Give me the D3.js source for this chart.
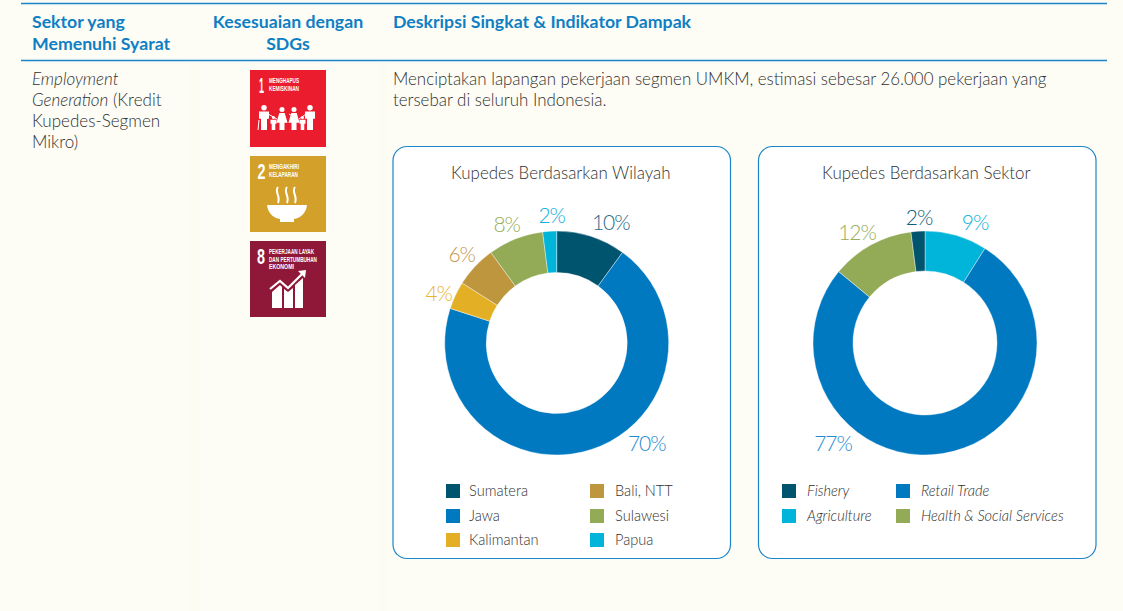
<!DOCTYPE html>
<html lang="id">
<head>
    <meta charset="UTF-8">
    <title>Kupedes</title>
    <script src="https://d3js.org/d3.v7.min.js"></script>
    <style>
        html, body { margin: 0; padding: 0; background: #fdfdf6; overflow: hidden; }
        text { font-family: Lato, "Noto Sans", sans-serif; }
    </style>
</head>
<body>
<div id="chart"></div>

<script type="text/javascript">
    var wilayahNames = ["Sumatera", "Jawa", "Kalimantan", "Bali, NTT", "Sulawesi", "Papua"];
    var wilayahValues = [10, 70, 4, 6, 8, 2];
    var sektorNames = ["Agriculture", "Retail Trade", "Health & Social Services", "Fishery"];
    var sektorValues = [9, 77, 12, 2];
    var sektorLegendOrder = ["Fishery", "Agriculture", "Retail Trade", "Health & Social Services"];

    var headerKiri = ["Sektor yang", "Memenuhi Syarat"];
    var headerTengah = ["Kesesuaian dengan", "SDGs"];
    var headerKanan = "Deskripsi Singkat & Indikator Dampak";
    var deskripsi = ["Menciptakan lapangan pekerjaan segmen UMKM, estimasi sebesar 26.000 pekerjaan yang",
        "tersebar di seluruh Indonesia."];

    var width = 1123;
    var height = 611;
    var blue = "#0f7fc4";
    var ink = "#303030";

    var colorWilayah = d3.scaleOrdinal()
        .domain(wilayahNames)
        .range(["#00546e", "#0079c1", "#e3b025", "#bd963e", "#93aa56", "#00b4da"]);
    var labelWilayah = ["#1f6d88", "#1f8ccf", "#e8b530", "#c49a50", "#98ae5c", "#0fb2dc"];
    // label offset from the donut centre
    var offsetWilayah = [[54, -121], [90, 100], [-118, -50], [-95, -89], [-50, -119], [-5, -128]];

    var colorSektor = d3.scaleOrdinal()
        .domain(sektorNames)
        .range(["#00b4da", "#0079c1", "#93aa56", "#00546e"]);
    var labelSektor = ["#0fb2dc", "#1f8ccf", "#98ae5c", "#0f5f7b"];
    var offsetSektor = [[50, -121], [-92, 100], [-68, -111], [-6, -126]];

    var svg = d3.select("#chart")
        .append("svg")
        .attr("width", width)
        .attr("height", height)
        .style("display", "block");

    svg.append("rect").attr("width", width).attr("height", height).attr("fill", "#fdfdf6");

    // faint column gutters
    [188, 378].forEach(function (x) {
        svg.append("rect").attr("x", x).attr("y", 62).attr("width", 11).attr("height", height - 62)
            .attr("fill", "#fcfcf3");
    });

    [3.5, 60.5].forEach(function (y) {
        svg.append("line").attr("x1", 21).attr("x2", 1107).attr("y1", y).attr("y2", y)
            .attr("stroke", "#1a85c8").attr("stroke-width", 1.5);
    });

    function lines(list, x, y0, step, size, fill, weight, anchor, style) {
        list.forEach(function (t, i) {
            svg.append("text")
                .attr("x", x)
                .attr("y", y0 + i * step)
                .attr("font-size", size + "px")
                .attr("font-weight", weight)
                .attr("fill", fill)
                .attr("text-anchor", anchor)
                .attr("font-style", style)
                .text(t);
        });
    }

    lines(headerKiri, 32, 28, 22, 17.7, blue, 700, "start", "normal");
    lines(headerTengah, 288, 28, 22, 17.7, blue, 700, "middle", "normal");
    lines([headerKanan], 393, 28, 22, 17.7, blue, 700, "start", "normal");
    lines(deskripsi, 393, 85, 21, 16.9, ink, 300, "start", "normal");

    var kiri = svg.append("text").attr("x", 32).attr("y", 85).attr("font-size", "17px")
        .attr("font-weight", 300).attr("fill", ink);
    kiri.append("tspan").attr("font-style", "italic").text("Employment");
    kiri = svg.append("text").attr("x", 32).attr("y", 106).attr("font-size", "17px")
        .attr("font-weight", 300).attr("fill", ink);
    kiri.append("tspan").attr("font-style", "italic").text("Generation");
    kiri.append("tspan").text(" (Kredit");
    lines(["Kupedes-Segmen", "Mikro)"], 32, 127, 21, 17, ink, 300, "start", "normal");

    // SDG tiles
    function tile(y, h, color, num, numX, numW, caption) {
        var g = svg.append("g").attr("transform", "translate(250," + y + ")");
        g.append("rect").attr("width", 76).attr("height", h).attr("fill", color);
        g.append("text").attr("x", numX).attr("y", 22.5).attr("font-size", "22px").attr("font-weight", 700)
            .style("font-family", "'Liberation Sans'")
            .attr("fill", "#fff")
            .attr("textLength", numW).attr("lengthAdjust", "spacingAndGlyphs").text(num);
        caption.forEach(function (c, i) {
            g.append("text").attr("x", 19).attr("y", 13.4 + i * 7.3).attr("font-size", "7.5px")
                .attr("font-weight", 700)
                .style("font-family", "'Liberation Sans'")
                .attr("fill", "#fff")
                .attr("textLength", c[1]).attr("lengthAdjust", "spacingAndGlyphs").text(c[0]);
        });
        return g;
    }

    function person(g, cx, top, h, w, skirt) {
        var r = h * 0.11;
        g.append("circle").attr("cx", cx).attr("cy", top + r).attr("r", r).attr("fill", "#fff");
        var y1 = top + 2.4 * r;
        var p = d3.path();
        if (skirt) {
            p.moveTo(cx - w * 0.3, y1);
            p.lineTo(cx + w * 0.3, y1);
            p.lineTo(cx + w * 0.62, top + h * 0.68);
            p.lineTo(cx + w * 0.28, top + h * 0.68);
            p.lineTo(cx + w * 0.28, top + h);
            p.lineTo(cx - w * 0.28, top + h);
            p.lineTo(cx - w * 0.28, top + h * 0.68);
            p.lineTo(cx - w * 0.62, top + h * 0.68);
        } else {
            p.moveTo(cx - w * 0.5, y1);
            p.lineTo(cx + w * 0.5, y1);
            p.lineTo(cx + w * 0.5, top + h * 0.55);
            p.lineTo(cx + w * 0.3, top + h * 0.55);
            p.lineTo(cx + w * 0.3, top + h);
            p.lineTo(cx - w * 0.3, top + h);
            p.lineTo(cx - w * 0.3, top + h * 0.55);
            p.lineTo(cx - w * 0.5, top + h * 0.55);
        }
        p.closePath();
        g.append("path").attr("d", p.toString()).attr("fill", "#fff");
    }

    var t1 = tile(70, 77, "#eb1c2d", "1", 9, 5, [["MENGHAPUS", 30], ["KEMISKINAN", 30]]);
    person(t1, 14, 35, 25, 10, false);
    person(t1, 23.5, 46, 14, 6, false);
    person(t1, 32, 37, 23, 9, true);
    person(t1, 44, 37, 23, 9, true);
    person(t1, 52.5, 46, 14, 6, false);
    person(t1, 60, 35, 25, 10, false);
    t1.append("path").attr("d", "M18,44L27,49M39,44L47,49M49,49L56,44M9,50L8,60")
        .attr("stroke", "#fff").attr("stroke-width", 1).attr("fill", "none");

    var t2 = tile(156, 76, "#d3a029", "2", 7.5, 8, [["MENGAKHIRI", 30], ["KELAPARAN", 29]]);
    t2.append("path").attr("d", "M17,49H57C56,58 50,62 44,63V66H30V63C24,62 18,58 17,49Z").attr("fill", "#fff");
    ["M28,31C24,36 31,40 28,47", "M37,31C33,36 40,40 37,47", "M45,31C41,36 48,40 45,47"].forEach(function (d) {
        t2.append("path").attr("d", d).attr("fill", "none").attr("stroke", "#fff").attr("stroke-width", 2);
    });

    var t8 = tile(241, 76, "#8f1838", "8", 7, 8, [["PEKERJAAN LAYAK", 45], ["DAN PERTUMBUHAN", 48], ["EKONOMI", 25]]);
    t8.append("path").attr("d", "M22,51L30,44L32,46V67H22Z M34,48L38,51L43,47V67H34Z M45,44L53,37V67H45Z")
        .attr("fill", "#fff");
    t8.append("path").attr("d", "M20,48L30,40L38,47L53,32").attr("fill", "none")
        .attr("stroke", "#fff").attr("stroke-width", 2.2);
    t8.append("path").attr("d", "M48,30L56,29L55,37Z").attr("fill", "#fff");

    // donut panels
    var pie = d3.pie().sort(null).value(function (d) { return d.value; });

    function panel(x0, x1, title, cx, rIn, names, values, color, labelColors, offsets) {
        svg.append("rect")
            .attr("x", x0).attr("y", 146.5)
            .attr("width", x1 - x0).attr("height", 412)
            .attr("rx", 14).attr("ry", 14)
            .attr("fill", "#fff").attr("stroke", "#1a85c8").attr("stroke-width", 1.2);

        svg.append("text").attr("x", (x0 + x1) / 2 - 1).attr("y", 179)
            .attr("text-anchor", "middle").attr("font-size", "16.9px").attr("font-weight", 300)
            .attr("fill", ink).text(title);

        var rows = names.map(function (n, i) { return { name: n, value: values[i] }; });
        var arc = d3.arc().innerRadius(rIn).outerRadius(112);
        var g = svg.append("g").attr("transform", "translate(" + cx + ",343)");

        g.selectAll("path").data(pie(rows)).enter().append("path")
            .attr("d", arc)
            .attr("fill", function (d) { return color(d.data.name); })
            .attr("stroke", "#fff").attr("stroke-width", 0.4);

        g.selectAll("text").data(rows).enter().append("text")
            .attr("x", function (d, i) { return offsets[i][0]; })
            .attr("y", function (d, i) { return offsets[i][1]; })
            .attr("dy", "0.36em")
            .attr("text-anchor", "middle")
            .attr("font-size", "21px").attr("font-weight", 300)
            .attr("letter-spacing", "-1.1px")
            .attr("fill", function (d, i) { return labelColors[i]; })
            .text(function (d) { return d.value + "%"; });
    }

    panel(393, 730.5, "Kupedes Berdasarkan Wilayah", 556.7, 70.5, wilayahNames, wilayahValues,
        colorWilayah, labelWilayah, offsetWilayah);
    panel(758.5, 1096, "Kupedes Berdasarkan Sektor", 925, 72, sektorNames, sektorValues,
        colorSektor, labelSektor, offsetSektor);

    function legend(names, color, colX, textGap, rowY, perCol, style) {
        var item = svg.append("g").selectAll("g").data(names).enter().append("g")
            .attr("transform", function (d, i) {
                return "translate(" + colX[Math.floor(i / perCol)] + "," + rowY[i % perCol] + ")";
            });
        item.append("rect").attr("width", 14).attr("height", 14)
            .attr("fill", function (d) { return color(d); });
        item.append("text").attr("x", function (d, i) { return textGap[Math.floor(i / perCol)]; })
            .attr("y", 12)
            .attr("font-size", "14.6px").attr("font-weight", 300).attr("font-style", style)
            .attr("fill", ink).text(function (d) { return d; });
    }

    legend(wilayahNames, colorWilayah, [446, 590], [23, 25], [484, 509, 533], 3, "normal");
    legend(sektorLegendOrder, colorSektor, [782, 896], [25, 25], [484, 509], 2, "italic");
</script>
</body>
</html>
